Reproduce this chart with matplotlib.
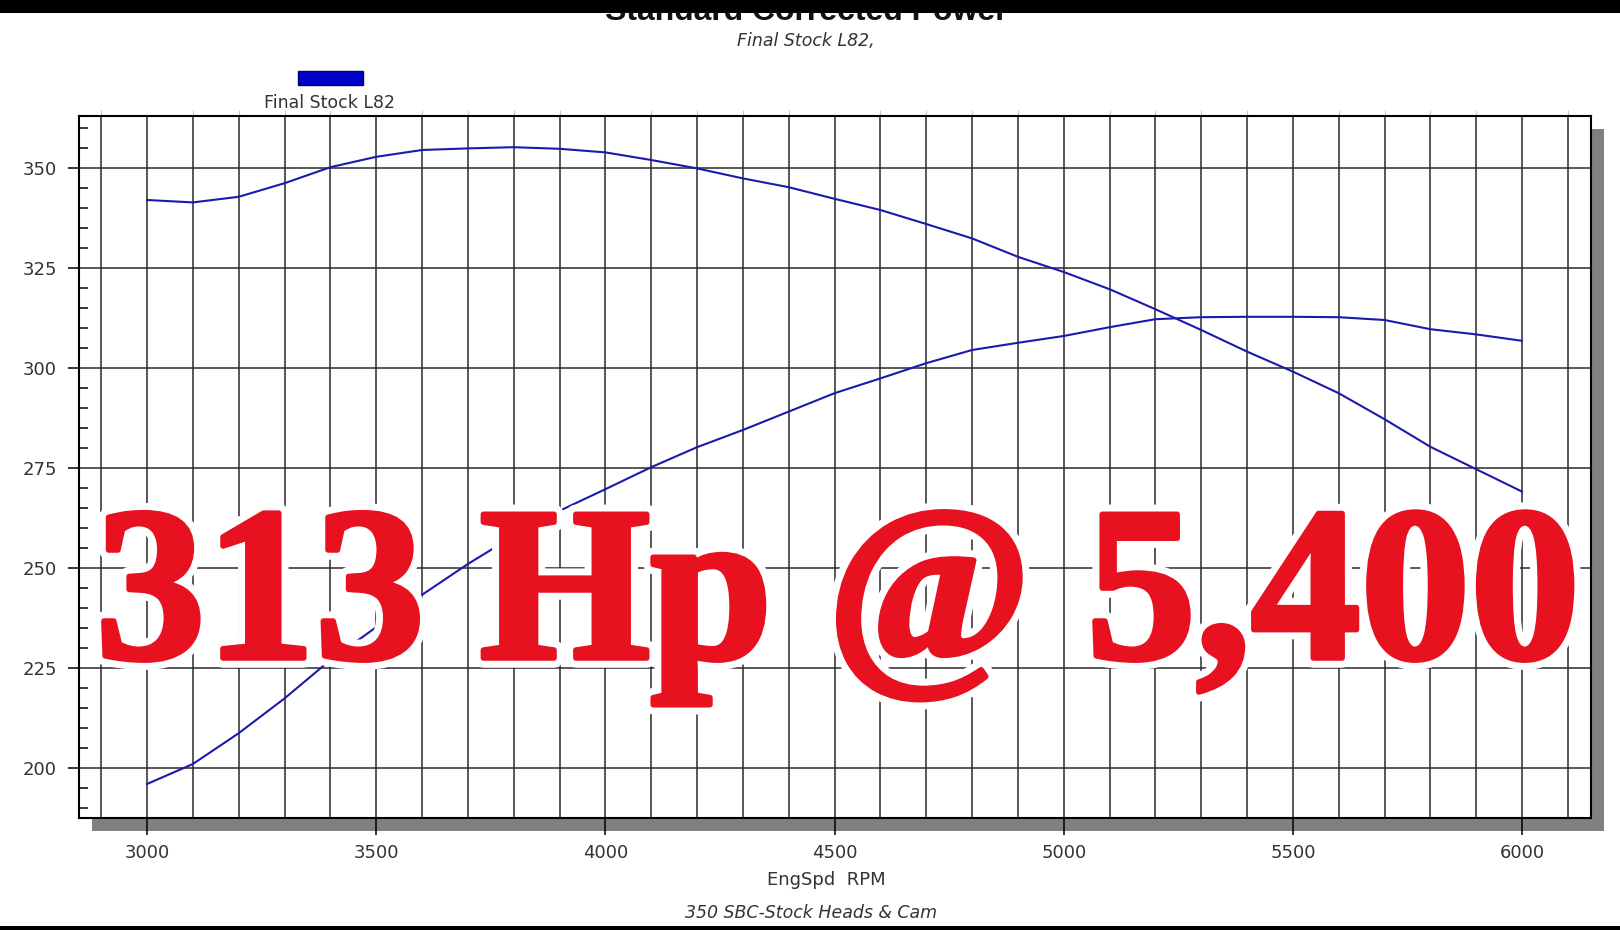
import matplotlib.pyplot as plt
from matplotlib.patches import Rectangle
import matplotlib.patheffects as pe

# Dyno sheet: 350 SBC, stock heads & cam
rpm = [3000, 3100, 3200, 3300, 3400, 3500, 3600, 3700, 3800, 3900,
       4000, 4100, 4200, 4300, 4400, 4500, 4600, 4700, 4800, 4900,
       5000, 5100, 5200, 5300, 5400, 5500, 5600, 5700, 5800, 5900, 6000]
torque = [342.0, 341.4, 342.8, 346.2, 350.2, 352.8, 354.5, 354.9, 355.2, 354.8,
          353.9, 352.0, 349.9, 347.4, 345.2, 342.3, 339.5, 336.0, 332.4, 327.8,
          324.0, 319.7, 314.7, 309.5, 304.1, 299.1, 293.7, 287.2, 280.3, 274.7, 269.1]
power = [196.0, 201.0, 208.7, 217.4, 227.0, 235.2, 243.3, 251.0, 258.0, 264.3,
         269.7, 275.2, 280.2, 284.5, 289.1, 293.7, 297.4, 301.2, 304.5, 306.3,
         308.0, 310.2, 312.2, 312.7, 312.8, 312.8, 312.7, 312.0, 309.7, 308.4, 306.8]

x_ticks = [3000, 3500, 4000, 4500, 5000, 5500, 6000]
y_ticks = [200, 225, 250, 275, 300, 325, 350]

title = 'Standard Corrected Power'
subtitle = 'Final Stock L82,'
series_name = 'Final Stock L82'
x_label = 'EngSpd  RPM'
footer = '350 SBC-Stock Heads & Cam'
banner = '313 Hp @ 5,400'

W, H = 1620, 930
plt.rcParams['font.family'] = ['DejaVu Sans']


def fx(px):
    return px / W


def fy(py):
    return 1 - py / H


fig = plt.figure(figsize=(W / 100, H / 100), dpi=100)
fig.patch.set_facecolor('white')

left, right, top, bottom = 79, 1591, 116, 818
ax = fig.add_axes([fx(left), fy(bottom), (right - left) / W, (bottom - top) / H])
ax.set_zorder(1)

# drop shadow behind the plot frame
fig.add_artist(Rectangle((fx(left + 13), fy(bottom + 13)), (right - left) / W, (bottom - top) / H,
                         transform=fig.transFigure, facecolor='#808080', edgecolor='none', zorder=0))

line_color = '#1a1aad'
ax.plot(rpm, torque, color=line_color, lw=1.5)
ax.plot(rpm, power, color=line_color, lw=1.5)

ax.set_xlim(2851.5, 6150.5)
ax.set_ylim(187.5, 363)
ax.set_xticks(x_ticks)
ax.set_xticks(range(2900, 6101, 100), minor=True)
ax.set_yticks(y_ticks)
ax.set_yticks(range(190, 361, 5), minor=True)

ax.grid(axis='x', which='both', color='#2a2a2a', lw=1.1)
ax.grid(axis='y', which='major', color='#2a2a2a', lw=1.1)
ax.set_axisbelow(True)

ax.tick_params(axis='y', which='major', direction='out', length=8, width=1.1,
               pad=8, labelsize=13, labelcolor='#333333')
ax.tick_params(axis='y', which='minor', direction='in', length=6.5, width=1.1)
ax.tick_params(axis='x', which='major', direction='out', length=12, width=1.1,
               pad=7, labelsize=13, labelcolor='#333333')
# faint marks above the frame
ax.tick_params(axis='x', which='minor', bottom=False, top=True, direction='out',
               length=4, width=0.8, color='#c8c8c8')
for s in ax.spines.values():
    s.set_color('black')
    s.set_linewidth(1.5)

# black letterbox bars
fig.add_artist(Rectangle((0, fy(13)), 1, 13 / H, transform=fig.transFigure,
                         facecolor='black', edgecolor='none', zorder=5))
fig.add_artist(Rectangle((0, 0), 1, 4 / H, transform=fig.transFigure,
                         facecolor='black', edgecolor='none', zorder=5))

fig.text(fx(806), fy(20), title, ha='center', va='baseline', fontsize=23,
         fontfamily='Liberation Sans', fontweight='bold', color='#111111', zorder=2)
fig.text(fx(806), fy(41), subtitle, ha='center', va='center', fontsize=12.5,
         style='italic', color='#333333')

# legend swatch
fig.add_artist(Rectangle((fx(298), fy(85)), 65 / W, 14 / H, transform=fig.transFigure,
                         facecolor='#0000cc', edgecolor='#000070', lw=1, zorder=3))
fig.text(fx(329), fy(103), series_name, ha='center', va='center', fontsize=12.5, color='#333333')

fig.text(fx(826), fy(880), x_label, ha='center', va='center', fontsize=13, color='#333333')
fig.text(fx(811), fy(913), footer, ha='center', va='center', fontsize=12.5,
         style='italic', color='#333333')

red = '#e8111f'
fig.text(fx(838), fy(658), banner, ha='center', va='baseline',
         fontfamily='Liberation Serif', fontweight='bold', fontsize=158, color=red,
         path_effects=[pe.Stroke(linewidth=14, foreground='white'),
                       pe.Stroke(linewidth=4, foreground=red), pe.Normal()],
         zorder=10)

fig.savefig('out.png', dpi=100)
